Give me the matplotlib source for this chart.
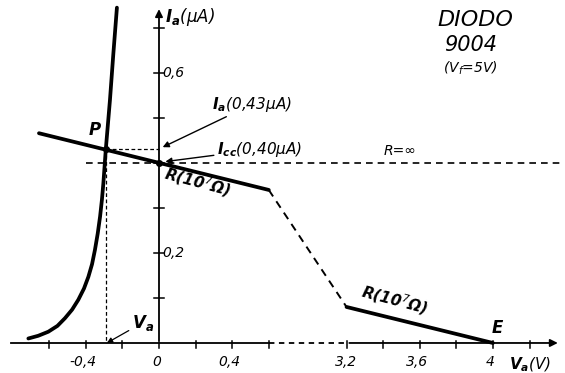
import numpy as np
import matplotlib
matplotlib.use("Agg")
import matplotlib.pyplot as plt

plt.rcParams['font.family'] = ['DejaVu Sans']
plt.rcParams['mathtext.fontset'] = 'custom'
plt.rcParams['mathtext.it'] = 'DejaVu Sans:italic'
plt.rcParams['mathtext.rm'] = 'DejaVu Sans:italic'
plt.rcParams['mathtext.bf'] = 'DejaVu Sans:italic:bold'

# ---- data (volts, microamps) ----
diode_v = [-0.714, -0.66, -0.605, -0.555, -0.514, -0.475, -0.441, -0.41, -0.386, -0.366,
           -0.350, -0.335, -0.322, -0.312, -0.304, -0.291, -0.268, -0.250, -0.230]
diode_i = [0.010, 0.016, 0.025, 0.038, 0.055, 0.074, 0.096, 0.121, 0.147, 0.175,
           0.207, 0.243, 0.281, 0.318, 0.355, 0.429, 0.54, 0.64, 0.745]
load1_v = [-0.656, 0.6]          # R = 10^7 ohm, left part
load1_i = [0.466, 0.34]
gap_v = [0.6, 3.2]               # dashed transition
gap_i = [0.34, 0.08]
load2_v = [3.2, 4.0]             # R = 10^7 ohm, right part
load2_i = [0.08, 0.0]
rinf_v = [-0.40, 4.37]           # R = infinity
rinf_i = [0.40, 0.40]
P_v, P_i = -0.29, 0.43
Icc = 0.40
yticks = [0.1, 0.2, 0.3, 0.4, 0.5, 0.6, 0.7]
ylabels = {0.2: '0,2', 0.6: '0,6'}
xticks = [-0.6, -0.4, -0.2, 0.0, 0.2, 0.4, 0.6, 3.2, 3.4, 3.6, 3.8, 4.0, 4.2]
xlabels = {-0.4: '-0,4', 0.0: '0', 0.4: '0,4', 3.2: '3,2', 3.6: '3,6', 4.0: '4'}

# broken voltage axis: 0.6 .. 3.2 V compressed
def fwd(v):
    v = np.asarray(v, float)
    return np.where(v <= 0.6, v, np.where(v >= 3.2, v - 2.175, 0.6 + (v - 0.6) * 0.425 / 2.6))

def inv(c):
    c = np.asarray(c, float)
    return np.where(c <= 0.6, c, np.where(c >= 1.025, c + 2.175, 0.6 + (c - 0.6) * 2.6 / 0.425))

fig = plt.figure(figsize=(5.65, 3.73), dpi=100)
ax = fig.add_axes([0, 0, 1, 1])
ax.set_xscale('function', functions=(fwd, inv))
ax.set_xlim(-0.869, 4.394)
ax.set_ylim(-0.0667, 0.762)
ax.axis('off')

k = 'black'
# axes
ax.plot([-0.81, 0.6], [0, 0], color=k, lw=1.3)
ax.plot([0.6, 3.2], [0, 0], color=k, lw=1.3, ls=(0, (3, 2.5)))
ax.annotate('', xy=(4.37, 0), xytext=(3.2, 0),
            arrowprops=dict(arrowstyle='-|>', color=k, lw=1.3, mutation_scale=11))
ax.annotate('', xy=(0, 0.748), xytext=(0, 0),
            arrowprops=dict(arrowstyle='-|>', color=k, lw=1.3, mutation_scale=11))
for t in yticks:
    ax.plot([-0.03, 0.03], [t, t], color=k, lw=1.1)
for t in xticks:
    ax.plot([t, t], [0.004, -0.012], color=k, lw=1.1)
for t, s in ylabels.items():
    ax.text(0.02, t, s, fontsize=10, style='italic', ha='left', va='center')
for t, s in xlabels.items():
    ax.text(t - 0.015, -0.042, s, fontsize=10, style='italic', ha='center', va='center')

# curves
ax.plot(diode_v, diode_i, color=k, lw=2.7, solid_capstyle='round', solid_joinstyle='round')
ax.plot(load1_v, load1_i, color=k, lw=2.7, solid_capstyle='round')
ax.plot(load2_v, load2_i, color=k, lw=2.7, solid_capstyle='round')
ax.plot(gap_v, gap_i, color=k, lw=1.4, ls=(0, (4, 3)))
ax.plot(rinf_v, rinf_i, color=k, lw=1.2, ls=(0, (4, 3)))
ax.plot([P_v, 0], [P_i, P_i], color=k, lw=0.9, ls=(0, (3, 2)))
ax.plot([P_v, P_v], [P_i, 0], color=k, lw=0.9, ls=(0, (3, 2)))
ax.plot([P_v], [P_i], 'o', color=k, ms=4)
ax.plot([0], [Icc], 'o', color=k, ms=4)

# labels
ax.text(0.035, 0.724, r'$\mathbf{I}_{\mathbf{a}}$(μA)', fontsize=12, style='italic', va='center')
ax.text(0.842, 0.946, 'DIODO', transform=ax.transAxes, fontsize=16, style='italic', ha='center', va='center')
ax.text(0.832, 0.879, '9004', transform=ax.transAxes, fontsize=15, style='italic', ha='center', va='center')
ax.text(0.832, 0.818, '(V$_{f}$=5V)', transform=ax.transAxes, fontsize=10, style='italic', ha='center', va='center')

ax.annotate(r'$\mathbf{I}_{\mathbf{a}}$(0,43μA)', xy=(0.02, 0.435), xytext=(0.29, 0.53),
            fontsize=11, style='italic', va='center', ha='left',
            arrowprops=dict(arrowstyle='-|>', color=k, lw=1.0, mutation_scale=9, shrinkA=0, shrinkB=0))
ax.annotate(r'$\mathbf{I}_{\mathbf{cc}}$(0,40μA)', xy=(0.035, 0.403), xytext=(0.315, 0.43),
            fontsize=11, style='italic', va='center', ha='left',
            arrowprops=dict(arrowstyle='-|>', color=k, lw=1.0, mutation_scale=9, shrinkA=0, shrinkB=0))
ax.text(3.40, 0.41, 'R=∞', fontsize=10, style='italic', va='bottom', ha='left')
ax.text(-0.35, 0.474, 'P', fontsize=12, style='italic', fontweight='bold', ha='center', va='center')
ax.text(0.21, 0.358, 'R(10$^{7}$Ω)', fontsize=11, style='italic', fontweight='bold',
        ha='center', va='center', rotation=-15)
ax.text(3.46, 0.096, 'R(10$^{7}$Ω)', fontsize=11, style='italic', fontweight='bold',
        ha='center', va='center', rotation=-15)
ax.text(4.022, 0.033, 'E', fontsize=12, style='italic', fontweight='bold', ha='center', va='center')
ax.annotate(r'$\mathbf{V}_{\mathbf{a}}$', xy=(P_v + 0.005, 0.0), xytext=(-0.15, 0.045),
            fontsize=12, va='center', ha='left',
            arrowprops=dict(arrowstyle='-|>', color=k, lw=0.9, mutation_scale=8, shrinkA=0, shrinkB=0))
ax.text(4.09, -0.048, r'$\mathbf{V}_{\mathbf{a}}$(V)', fontsize=11, style='italic', va='center', ha='left')

fig.savefig('out.png', dpi=100)
